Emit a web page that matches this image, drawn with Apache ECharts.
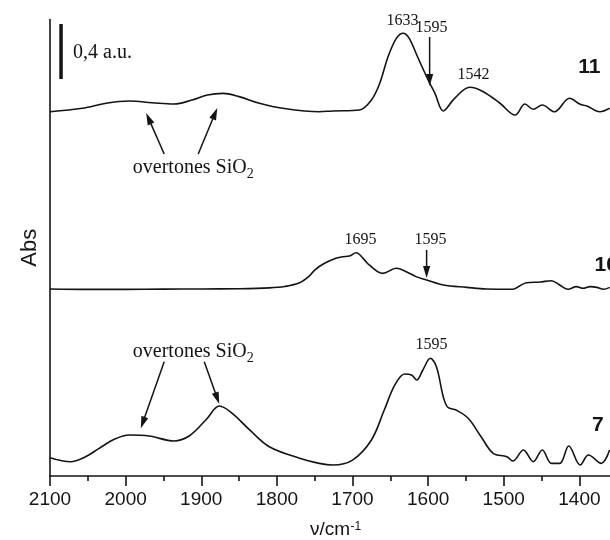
<!DOCTYPE html>
<html><head><meta charset="utf-8">
<script src="https://cdn.jsdelivr.net/npm/echarts@6/dist/echarts.min.js"></script>
<style>html,body{margin:0;padding:0;background:#fff}#c{width:610px;height:540px}</style>
</head><body><div id="c"></div>
<script>
// ---- data (wavenumber in cm^-1, absorbance in a.u., spectra stacked as displayed) ----
const wn11 = [2100,2057,2026,1995,1965,1936,1912,1892,1871,1850,1823,1792,1744,1726,1691,1675,1664,1653,1642,1633,1625,1614,1600,1591,1580,1565,1545,1527,1505,1485,1472,1461,1449,1433,1413,1399,1390,1373,1360];
const abs11 = [2.649,2.674,2.711,2.727,2.715,2.705,2.735,2.771,2.783,2.759,2.711,2.674,2.649,2.655,2.662,2.735,2.856,3.049,3.183,3.220,3.183,3.049,2.880,2.783,2.655,2.747,2.827,2.795,2.711,2.625,2.705,2.667,2.698,2.649,2.747,2.703,2.691,2.649,2.674];

const wn10 = [2100,2050,2000,1950,1900,1850,1810,1790,1770,1757,1750,1737,1722,1713,1704,1695,1686,1678,1660,1642,1629,1616,1602,1580,1549,1523,1488,1479,1470,1452,1437,1426,1415,1404,1395,1386,1377,1368,1360];
const abs10 = [1.360,1.357,1.357,1.359,1.360,1.362,1.368,1.378,1.405,1.455,1.498,1.547,1.583,1.595,1.600,1.624,1.583,1.535,1.474,1.511,1.486,1.450,1.426,1.389,1.372,1.360,1.358,1.382,1.406,1.411,1.420,1.389,1.358,1.377,1.365,1.377,1.372,1.358,1.372];

const wn7 = [2100,2073,2053,2035,2015,1995,1969,1936,1916,1894,1876,1859,1836,1810,1770,1744,1726,1700,1675,1658,1644,1631,1622,1615,1607,1597,1589,1580,1574,1563,1547,1530,1514,1496,1488,1474,1461,1449,1437,1426,1414,1399,1388,1371,1360];
const abs7 = [0.133,0.104,0.140,0.201,0.267,0.298,0.291,0.255,0.291,0.407,0.509,0.456,0.335,0.213,0.129,0.092,0.080,0.116,0.262,0.480,0.662,0.742,0.735,0.698,0.771,0.856,0.795,0.577,0.500,0.480,0.420,0.286,0.165,0.140,0.109,0.189,0.104,0.189,0.092,0.092,0.218,0.080,0.153,0.092,0.189];

const traceNames = ['11','10','7'];
const peakLabels = ['1633','1595','1542','1695','1595','1595'];
const scaleBarText = '0,4 a.u.';
const scaleBarValue = 0.4;

const ink = '#141414';
const zip = (w,a) => w.map((v,i)=>[v,a[i]]);

const chart = echarts.init(document.getElementById('c'), null, {renderer:'canvas'});
const lineSeries = (name, data) => ({
  name, type:'line', data, showSymbol:false, smooth:0.35, silent:true,
  lineStyle:{color:ink, width:1.6}, itemStyle:{color:ink}
});
chart.setOption({
  animation:false,
  backgroundColor:'#ffffff',
  grid:{left:50, right:-45, top:19.5, bottom:64, containLabel:false, outerBoundsMode:'none'},
  xAxis:{
    type:'value', inverse:true, min:1300, max:2100, interval:100,
    axisLine:{show:true, onZero:false, lineStyle:{color:ink, width:1.6}},
    axisTick:{show:true, inside:false, length:10, lineStyle:{color:ink, width:1.6}},
    minorTick:{show:true, splitNumber:2, length:5, lineStyle:{color:ink, width:1.6}},
    splitLine:{show:false}, minorSplitLine:{show:false},
    axisLabel:{color:ink, fontFamily:'Liberation Sans', fontSize:19, margin:14, showMinLabel:false, formatter:(v)=>String(v)}
  },
  yAxis:{
    type:'value', min:0, max:3.32,
    axisLine:{show:true, lineStyle:{color:ink, width:1.6}},
    axisTick:{show:false}, axisLabel:{show:false}, splitLine:{show:false},
    name:'Abs', nameLocation:'middle', nameGap:9, nameRotate:90,
    nameTextStyle:{fontFamily:'Liberation Sans', fontSize:22, color:ink}
  },
  series:[
    lineSeries(traceNames[0], zip(wn11, abs11)),
    lineSeries(traceNames[1], zip(wn10, abs10)),
    lineSeries(traceNames[2], zip(wn7, abs7))
  ]
});

// ---- annotations, anchored in data coordinates ----
const px = (w,a) => chart.convertToPixel({xAxisIndex:0, yAxisIndex:0}, [w,a]);
const mctx = document.createElement('canvas').getContext('2d');
const tw = (t,font) => { mctx.font = font; return mctx.measureText(t).width; };
const G = [];
const serif = (s) => s + 'px "Liberation Serif", "DejaVu Serif", serif';
const sans = (s, b) => (b ? 'bold ' : '') + s + 'px "Liberation Sans", Arial, sans-serif';

function text(t, w, a, font, align) {
  const p = px(w,a);
  G.push({type:'text', x:p[0], y:p[1], silent:true,
    style:{text:t, font:font, fill:ink, align:align||'center', verticalAlign:'middle'}});
}
function textSub(main, sub, w, a, size) {
  const p = px(w,a);
  const f1 = serif(size), f2 = serif(Math.round(size*0.7));
  const w1 = tw(main,f1), w2 = tw(sub,f2);
  const x0 = p[0] - (w1+w2)/2;
  G.push({type:'text', x:x0, y:p[1], silent:true, style:{text:main, font:f1, fill:ink, align:'left', verticalAlign:'middle'}});
  G.push({type:'text', x:x0+w1, y:p[1]+6, silent:true, style:{text:sub, font:f2, fill:ink, align:'left', verticalAlign:'middle'}});
}
function arrow(w0,a0,w1,a1) {
  const p0 = px(w0,a0), p1 = px(w1,a1);
  const dx = p1[0]-p0[0], dy = p1[1]-p0[1], L = Math.hypot(dx,dy);
  const ux = dx/L, uy = dy/L, hl = 12, hw = 3.6;
  const bx = p1[0]-ux*hl, by = p1[1]-uy*hl;
  G.push({type:'line', silent:true, shape:{x1:p0[0], y1:p0[1], x2:bx+ux*2, y2:by+uy*2}, style:{stroke:ink, lineWidth:1.5}});
  G.push({type:'polygon', silent:true, shape:{points:[[p1[0],p1[1]],[bx-uy*hw, by+ux*hw],[bx+uy*hw, by-ux*hw]]}, style:{fill:ink}});
}

// scale bar
const sb0 = px(2085.4, 2.887), sb1 = px(2085.4, 2.887 + scaleBarValue);
G.push({type:'line', silent:true, shape:{x1:sb0[0], y1:sb0[1], x2:sb1[0], y2:sb1[1]}, style:{stroke:ink, lineWidth:3.5}});
text(scaleBarText, 2069.5, 3.076, serif(20), 'left');

// trace 11
text(peakLabels[0], 1634, 3.31, serif(16));
text(peakLabels[1], 1595.4, 3.262, serif(16));
arrow(1598, 3.193, 1598, 2.836);
text(peakLabels[2], 1540, 2.916, serif(16));
textSub('overtones SiO', '2', 1910.6, 2.24, 20);
arrow(1949, 2.342, 1972.8, 2.640);
arrow(1904, 2.342, 1878.8, 2.676);
text(traceNames[0], 1386.7, 2.975, sans(21, true));

// trace 10
text(peakLabels[3], 1689.4, 1.716, serif(16));
text(peakLabels[4], 1596.7, 1.716, serif(16));
arrow(1602, 1.644, 1602, 1.440);
text(traceNames[1], 1380, 1.535, sans(21, true), 'left');

// trace 7
text(peakLabels[5], 1595.4, 0.953, serif(16));
textSub('overtones SiO', '2', 1910.6, 0.902, 20);
arrow(1949, 0.831, 1979.9, 0.347);
arrow(1896, 0.831, 1876.2, 0.524);
text(traceNames[2], 1375.5, 0.371, sans(21, true));

// x-axis title  ν/cm^-1
{
  const f1 = sans(19), f2 = sans(12);
  G.push({type:'text', x:310, y:529.5, silent:true, style:{text:'\u03BD/cm', font:f1, fill:ink, align:'left', verticalAlign:'middle'}});
  const w1 = tw('\u03BD/cm', f1);
  G.push({type:'text', x:310+w1+0.5, y:527, silent:true, style:{text:'-1', font:f2, fill:ink, align:'left', verticalAlign:'middle'}});
}

chart.setOption({graphic:{elements:G}});
</script>
</body></html>
